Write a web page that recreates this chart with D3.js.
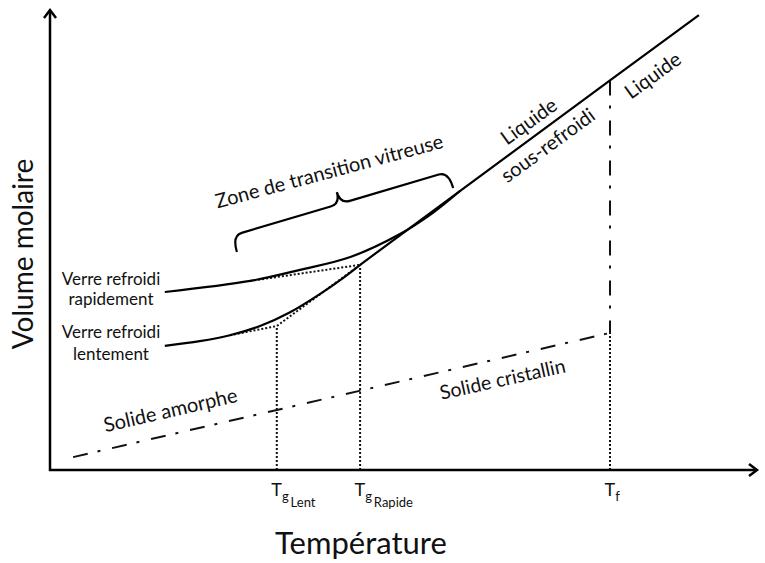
<!DOCTYPE html>
<html>
<head>
<meta charset="utf-8">
<script src="https://cdn.jsdelivr.net/npm/d3@7"></script>
<style>
  body { margin: 0; background: #fff; }
  text { font-family: Lato, "Open Sans", sans-serif; fill: #111; }
</style>
</head>
<body>
<div id="chart"></div>
<script>
// temperature (T) and molar volume (V) in arbitrary units
const tgLent = 3.24;
const tgRapide = 4.43;
const tf = 8.0;

const liquideT = [4.43, 5.86, 8.0, 9.27];
const liquideV = [4.46, 6.07, 8.47, 9.89];

const lentT = [1.64, 2.14, 2.57, 3.0, 3.43, 3.86, 4.21, 4.43];
const lentV = [2.70, 2.80, 2.93, 3.13, 3.43, 3.83, 4.20, 4.46];

const rapideT = [1.64, 2.86, 3.57, 4.29, 5.0, 5.47, 5.86];
const rapideV = [3.87, 4.11, 4.35, 4.63, 5.13, 5.59, 6.07];

const extraLentT = [2.57, 3.24, 4.43];
const extraLentV = [2.93, 3.13, 4.46];
const extraRapideT = [2.86, 4.43];
const extraRapideV = [4.11, 4.46];

const cristalT = [0.33, 8.0];
const cristalV = [0.28, 2.98];

const braceT = [2.67, 5.76];
const braceV = [4.74, 6.13];

const tickValues = [tgLent, tgRapide, tf];
const tickMain = ["T", "T", "T"];
const tickSub = ["g", "g", "f"];
const tickSub2 = ["Lent", "Rapide", ""];

const width = 765;
const height = 563;

const svg = d3.select("#chart")
              .append("svg")
              .attr("width", width)
              .attr("height", height);

const xScale = d3.scaleLinear()
                 .domain([0, 10])
                 .range([50, 750]);

const yScale = d3.scaleLinear()
                 .domain([0, 10])
                 .range([470, 10]);

const zip = (a, b) => a.map((d, i) => [d, b[i]]);

const line = d3.line()
               .x(d => xScale(d[0]))
               .y(d => yScale(d[1]));

const smooth = d3.line()
                 .x(d => xScale(d[0]))
                 .y(d => yScale(d[1]))
                 .curve(d3.curveCatmullRom);

// arrow heads for the axes
svg.append("defs")
   .append("marker")
   .attr("id", "arrow")
   .attr("markerUnits", "userSpaceOnUse")
   .attr("viewBox", "-12 -9 16 18")
   .attr("markerWidth", 16)
   .attr("markerHeight", 18)
   .attr("refX", 0)
   .attr("refY", 0)
   .attr("orient", "auto")
   .append("path")
   .attr("d", "M-8,-6 L0,0 L-8,6")
   .attr("fill", "none")
   .attr("stroke", "#000")
   .attr("stroke-width", 2.5);

// dotted drop lines
const drops = [
    [[tgLent, 0], [tgLent, extraLentV[1]]],
    [[tgRapide, 0], [tgRapide, extraRapideV[1]]],
    [[tf, 0], [tf, cristalV[1]]]
];
svg.selectAll(".drop")
   .data(drops)
   .join("path")
   .attr("class", "drop")
   .attr("d", line)
   .attr("fill", "none")
   .attr("stroke", "#111")
   .attr("stroke-width", 2)
   .attr("stroke-dasharray", "2,2");

// dotted extrapolations
svg.selectAll(".extra")
   .data([zip(extraLentT, extraLentV), zip(extraRapideT, extraRapideV)])
   .join("path")
   .attr("class", "extra")
   .attr("d", line)
   .attr("fill", "none")
   .attr("stroke", "#111")
   .attr("stroke-width", 2)
   .attr("stroke-dasharray", "2,2");

// dash-dot lines: crystalline solid and Tf
svg.append("path")
   .attr("d", line(zip(cristalT, cristalV)))
   .attr("fill", "none")
   .attr("stroke", "#111")
   .attr("stroke-width", 2)
   .attr("stroke-dasharray", "15,10,3,12");

svg.append("path")
   .attr("d", line([[tf, liquideV[2]], [tf, cristalV[1]]]))
   .attr("fill", "none")
   .attr("stroke", "#111")
   .attr("stroke-width", 2)
   .attr("stroke-dasharray", "15,10,3,12");

// solid curves
svg.selectAll(".curve")
   .data([zip(lentT, lentV), zip(rapideT, rapideV)])
   .join("path")
   .attr("class", "curve")
   .attr("d", smooth)
   .attr("fill", "none")
   .attr("stroke", "#000")
   .attr("stroke-width", 2.2);

svg.append("path")
   .attr("d", line(zip(liquideT, liquideV)))
   .attr("fill", "none")
   .attr("stroke", "#000")
   .attr("stroke-width", 2.2);

// brace of the glass transition zone
const p0 = [xScale(braceT[0]), yScale(braceV[0])];
const p1 = [xScale(braceT[1]), yScale(braceV[1])];
const L = Math.hypot(p1[0] - p0[0], p1[1] - p0[1]);
const ang = Math.atan2(p1[1] - p0[1], p1[0] - p0[0]) * 180 / Math.PI;
const h = 17, t = 12, r = 10;
const bracePath = `M0,0 Q0,${-h} ${r},${-h} L${L / 2 - r},${-h} Q${L / 2},${-h} ${L / 2},${-h - t}`
                + ` Q${L / 2},${-h} ${L / 2 + r},${-h} L${L - r},${-h} Q${L},${-h} ${L},0`;
svg.append("path")
   .attr("transform", `translate(${p0[0]},${p0[1]}) rotate(${ang})`)
   .attr("d", bracePath)
   .attr("fill", "none")
   .attr("stroke", "#000")
   .attr("stroke-width", 2.2);

// axes
svg.append("line")
   .attr("x1", xScale(0)).attr("y1", yScale(0) + 1)
   .attr("x2", xScale(0)).attr("y2", 10)
   .attr("stroke", "#000")
   .attr("stroke-width", 2.5)
   .attr("marker-end", "url(#arrow)");

svg.append("line")
   .attr("x1", xScale(0) - 1).attr("y1", yScale(0))
   .attr("x2", 757).attr("y2", yScale(0))
   .attr("stroke", "#000")
   .attr("stroke-width", 2.5)
   .attr("marker-end", "url(#arrow)");

const xAxis = d3.axisBottom(xScale)
                .tickValues(tickValues)
                .tickSize(0)
                .tickFormat("");

const gx = svg.append("g")
              .attr("transform", `translate(0, ${yScale(0)})`)
              .call(xAxis);
gx.select(".domain").remove();

const labels = gx.selectAll(".tick")
                 .append("text")
                 .attr("x", -6)
                 .attr("y", 26)
                 .attr("text-anchor", "start")
                 .attr("fill", "#111");
labels.append("tspan")
      .attr("font-size", 18)
      .text((d, i) => tickMain[i]);
labels.append("tspan")
      .attr("font-size", 13)
      .attr("dy", 5)
      .text((d, i) => tickSub[i]);
labels.append("tspan")
      .attr("font-size", 13)
      .attr("dx", 2)
      .attr("dy", 6)
      .text((d, i) => tickSub2[i]);

// axis titles
svg.append("text")
   .attr("x", 361)
   .attr("y", 554)
   .attr("text-anchor", "middle")
   .attr("font-size", 31)
   .text("Température");

svg.append("text")
   .attr("transform", "translate(33, 254) rotate(-90)")
   .attr("text-anchor", "middle")
   .attr("font-size", 28)
   .text("Volume molaire");

// annotations
const notes = [
    { x: 331, y: 178, a: -15, s: 20, t: "Zone de transition vitreuse" },
    { x: 533, y: 127, a: -36, s: 20, t: "Liquide" },
    { x: 552, y: 151, a: -36, s: 20, t: "sous-refroidi" },
    { x: 657, y: 81, a: -36, s: 20, t: "Liquide" },
    { x: 172, y: 417, a: -13, s: 20, t: "Solide amorphe" },
    { x: 504, y: 386, a: -12.5, s: 19.5, t: "Solide cristallin" },
    { x: 111, y: 285, a: 0, s: 17, t: "Verre refroidi" },
    { x: 111, y: 305, a: 0, s: 17, t: "rapidement" },
    { x: 111, y: 338, a: 0, s: 17, t: "Verre refroidi" },
    { x: 111, y: 360, a: 0, s: 17, t: "lentement" }
];
svg.selectAll(".note")
   .data(notes)
   .join("text")
   .attr("class", "note")
   .attr("transform", d => `translate(${d.x}, ${d.y}) rotate(${d.a})`)
   .attr("text-anchor", "middle")
   .attr("font-size", d => d.s)
   .text(d => d.t);
</script>
</body>
</html>
